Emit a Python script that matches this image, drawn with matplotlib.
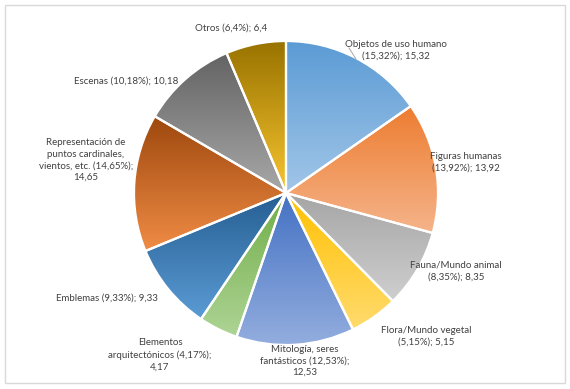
import numpy as np
import matplotlib.pyplot as plt
from matplotlib.colors import LinearSegmentedColormap
from matplotlib.patches import Rectangle

plt.rcParams['font.family'] = ['Lato', 'DejaVu Sans']

# data
categorias = ['Objetos de uso humano', 'Figuras humanas', 'Fauna/Mundo animal',
              'Flora/Mundo vegetal', 'Mitología, seres fantásticos',
              'Elementos arquitectónicos', 'Emblemas',
              'Representación de puntos cardinales, vientos, etc.',
              'Escenas', 'Otros']
valores = [15.32, 13.92, 8.35, 5.15, 12.53, 4.17, 9.33, 14.65, 10.18, 6.4]
etiquetas = ['Objetos de uso humano\n(15,32%); 15,32',
             'Figuras humanas\n(13,92%); 13,92',
             'Fauna/Mundo animal\n(8,35%); 8,35',
             'Flora/Mundo vegetal\n(5,15%); 5,15',
             'Mitología, seres\nfantásticos (12,53%);\n12,53',
             'Elementos\narquitectónicos (4,17%);\n4,17',
             'Emblemas (9,33%); 9,33',
             'Representación de\npuntos cardinales,\nvientos, etc. (14,65%);\n14,65',
             'Escenas (10,18%); 10,18',
             'Otros (6,4%); 6,4']
# gradient (top, bottom) per slice
colores_arriba = ['#5B9BD5', '#ED7D31', '#A5A5A5', '#FFC000', '#4472C4',
                  '#70AD47', '#255E91', '#9E480E', '#636363', '#997300']
colores_abajo = ['#A2C6E8', '#F5B48A', '#CFCFCF', '#FFDB6E', '#93ADDE',
                 '#AED495', '#5B9BD5', '#F08C45', '#A8A8A8', '#F7C530']
# label centres in pixels (x, y from top)
pos_etiquetas = [(396, 50), (466, 162), (456, 271), (426, 336), (305, 361),
                 (160, 355), (107, 298), (86, 160), (126, 81), (231, 28)]

W, H = 570, 389
fig = plt.figure(figsize=(W / 100, H / 100), dpi=100)
ax = fig.add_axes([0, 0, 1, 1])

cx, cy, r = 286, H - 193, 152
wedges, _ = ax.pie(valores, startangle=90, counterclock=False, radius=r,
                   center=(cx, cy), frame=True,
                   wedgeprops=dict(edgecolor='white', linewidth=1.6))
ax.set_xlim(0, W)
ax.set_ylim(0, H)
ax.set_aspect('equal')
ax.axis('off')

grad = np.linspace(0, 1, 256).reshape(-1, 1)
for w, c1, c2 in zip(wedges, colores_arriba, colores_abajo):
    ext = w.get_path().get_extents()
    cmap = LinearSegmentedColormap.from_list('g', [c1, c2])
    im = ax.imshow(grad, cmap=cmap, aspect='auto', origin='upper',
                   extent=[ext.x0, ext.x1, ext.y0, ext.y1], zorder=1)
    im.set_clip_path(w)
    w.set_facecolor('none')
    w.set_zorder(2)

for txt, (x, y) in zip(etiquetas, pos_etiquetas):
    ax.text(x, H - y, txt, ha='center', va='center', fontsize=7.0,
            color='#404040', linespacing=1.38)

# leader line for first label
ax.plot([349, 356], [H - 48, H - 59], color='#A6A6A6', lw=0.7)

ax.add_patch(Rectangle((5, H - 383), 560, 378, fill=False,
                       edgecolor='#D9D9D9', lw=1))

fig.savefig('out.png', dpi=100)
